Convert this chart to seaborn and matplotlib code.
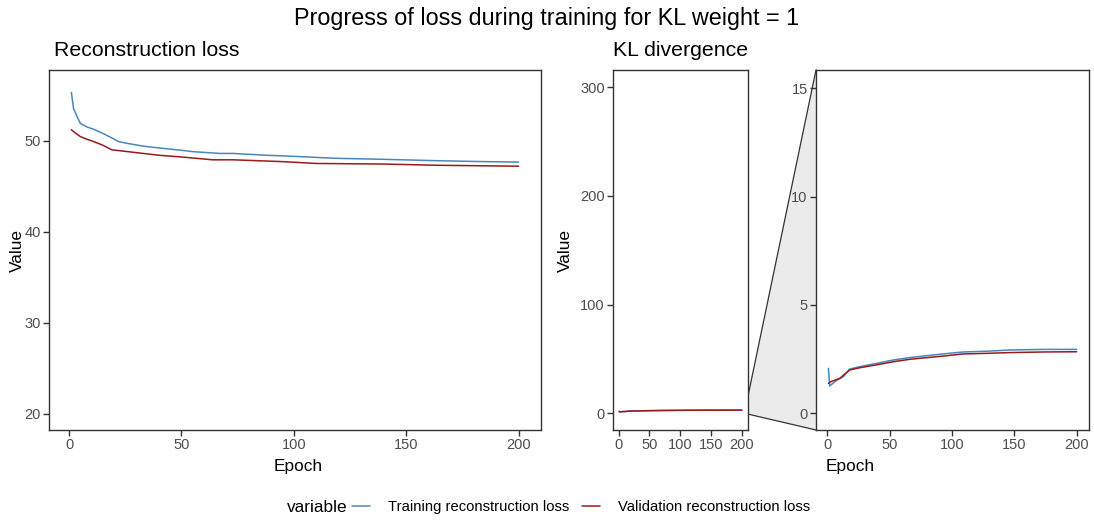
import pandas as pd
import matplotlib
matplotlib.use("Agg")
import matplotlib.pyplot as plt
import seaborn as sns
from matplotlib.lines import Line2D
from matplotlib.patches import Polygon

# Reconstruction loss
rec_train_epoch = [1, 2, 4, 5, 8, 11, 15, 19, 22, 26, 33, 40, 48, 55, 67, 73, 88, 103, 118, 139, 164, 185, 200]
rec_train_value = [55.3, 53.5, 52.4, 51.9, 51.5, 51.25, 50.8, 50.3, 49.9, 49.7, 49.4, 49.2, 49.0, 48.8,
                   48.6, 48.6, 48.4, 48.25, 48.07, 47.96, 47.8, 47.7, 47.65]
rec_val_epoch = [1, 3, 5, 8, 11, 15, 19, 26, 33, 40, 48, 55, 64, 73, 95, 110, 139, 164, 200]
rec_val_value = [51.2, 50.8, 50.45, 50.15, 49.9, 49.5, 49.0, 48.8, 48.6, 48.4, 48.25, 48.1, 47.9,
                 47.9, 47.7, 47.5, 47.44, 47.3, 47.2]

# KL divergence
kl_train_epoch = [1, 2, 8, 13, 18, 26, 40, 53, 66, 80, 93, 109, 130, 146, 173, 200]
kl_train_value = [2.08, 1.26, 1.54, 1.69, 2.04, 2.15, 2.31, 2.46, 2.57, 2.66, 2.74, 2.83, 2.87, 2.92, 2.95, 2.95]
kl_val_epoch = [1, 3, 10, 18, 26, 40, 53, 66, 80, 93, 109, 130, 146, 173, 200]
kl_val_value = [1.38, 1.46, 1.61, 2.0, 2.1, 2.24, 2.38, 2.49, 2.57, 2.64, 2.74, 2.77, 2.80, 2.83, 2.84]

labels = ["Training reconstruction loss", "Validation reconstruction loss"]
colors = {labels[0]: "#4A86BE", labels[1]: "#981A1A"}


def long_df(tr_e, tr_v, va_e, va_v):
    a = pd.DataFrame({"Epoch": tr_e, "Value": tr_v, "variable": labels[0]})
    b = pd.DataFrame({"Epoch": va_e, "Value": va_v, "variable": labels[1]})
    return pd.concat([a, b], ignore_index=True)


rec_df = long_df(rec_train_epoch, rec_train_value, rec_val_epoch, rec_val_value)
kl_df = long_df(kl_train_epoch, kl_train_value, kl_val_epoch, kl_val_value)

sns.set_theme(style="white")
plt.rcParams["font.family"] = ["Liberation Sans", "DejaVu Sans"]
plt.rcParams["text.color"] = "black"

W, H = 1094, 523
fig = plt.figure(figsize=(W / 100, H / 100), dpi=100)


def px_axes(x0, x1, y0=70, y1=430):
    return fig.add_axes([x0 / W, 1 - y1 / H, (x1 - x0) / W, (y1 - y0) / H])


ax_rec = px_axes(49, 541)
ax_kl = px_axes(613, 748)
ax_zoom = px_axes(816, 1089)

for ax, df in [(ax_rec, rec_df), (ax_kl, kl_df), (ax_zoom, kl_df)]:
    sns.lineplot(data=df, x="Epoch", y="Value", hue="variable", palette=colors,
                 estimator=None, sort=True, linewidth=1.1, legend=False, ax=ax)
    ax.set_xlim(-8.95, 209.95)
    ax.set_xticks([0, 50, 100, 150, 200])
    ax.set_xlabel("")
    ax.set_ylabel("")
    for s in ax.spines.values():
        s.set_visible(True)
        s.set_color("#333333")
        s.set_linewidth(1)
    ax.tick_params(axis="both", bottom=True, left=True, direction="out", length=4, width=1,
                   color="#333333", labelsize=10.5, labelcolor="#4D4D4D", pad=2)
    ax.grid(False)

ax_rec.set_ylim(18.24, 57.76)
ax_rec.set_yticks([20, 30, 40, 50])
ax_kl.set_ylim(-15.4, 315.9)
ax_kl.set_yticks([0, 100, 200, 300])
ax_zoom.set_ylim(-0.77, 15.84)
ax_zoom.set_yticks([0, 5, 10, 15])

# zoom connector between full KL panel and zoomed panel
to_fig = fig.transFigure.inverted()
lo, hi = ax_zoom.get_ylim()
p_top = to_fig.transform(ax_kl.transData.transform((ax_kl.get_xlim()[1], hi)))
p_bot = to_fig.transform(ax_kl.transData.transform((ax_kl.get_xlim()[1], lo)))
z_top = (816 / W, 1 - 70 / H)
z_bot = (816 / W, 1 - 430 / H)
fig.patches.append(Polygon([p_top, z_top, z_bot, p_bot], closed=True, transform=fig.transFigure,
                           facecolor="#EBEBEB", edgecolor="none", zorder=-2))
for a, b in [(p_top, z_top), (p_bot, z_bot)]:
    fig.lines.append(Line2D([a[0], b[0]], [a[1], b[1]], transform=fig.transFigure,
                            color="#333333", linewidth=0.9, zorder=-1))

# texts
fig.text(0.5, 1 - 18 / H, "Progress of loss during training for KL weight = 1",
         ha="center", va="center", fontsize=16.8)
fig.text(54 / W, 1 - 50 / H, "Reconstruction loss", ha="left", va="center", fontsize=15.3)
fig.text(613 / W, 1 - 50 / H, "KL divergence", ha="left", va="center", fontsize=15.3)
fig.text(17 / W, 1 - 250 / H, "Value", ha="center", va="center", rotation=90, fontsize=12.4)
fig.text(565 / W, 1 - 250 / H, "Value", ha="center", va="center", rotation=90, fontsize=12.4)
fig.text(298 / W, 1 - 467 / H, "Epoch", ha="center", va="center", fontsize=12.4)
fig.text(826 / W, 1 - 467 / H, "Epoch", ha="left", va="center", fontsize=12.4)

# legend at the bottom, title on the left
handles = [Line2D([], [], color=colors[l], linewidth=1.1) for l in labels]
fig.text(317 / W, 1 - 507 / H, "variable", ha="center", va="center", fontsize=12.4)
fig.legend(handles, labels, loc="center", bbox_to_anchor=(581 / W, 1 - 507 / H), ncol=2,
           frameon=False, fontsize=10.6, handlelength=1.2, handletextpad=1.2,
           columnspacing=0.9, borderpad=0, borderaxespad=0)

fig.savefig("out.png", dpi=100)
